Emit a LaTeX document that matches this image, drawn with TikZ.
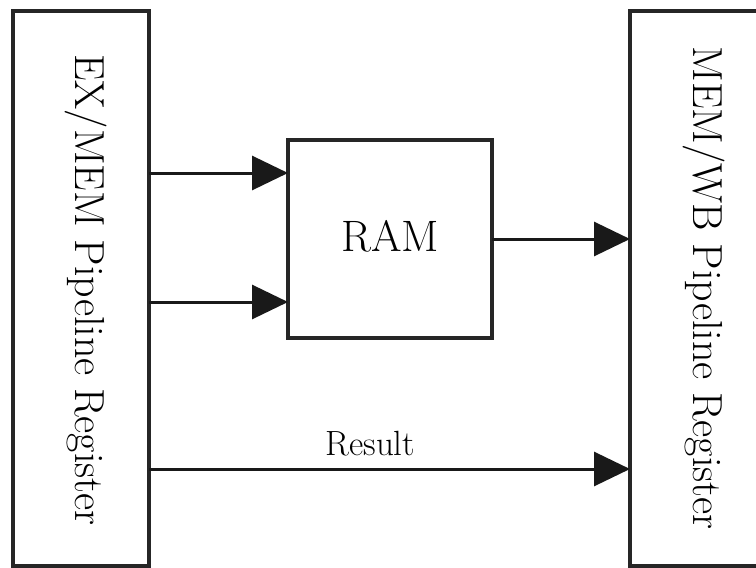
\documentclass[tikz,border=0pt]{standalone}
\usetikzlibrary{arrows.meta}
\begin{document}
\begin{tikzpicture}[x=1pt,y=-1pt,
  reg/.style={draw=black!85, line width=4pt, minimum width=136pt, minimum height=555pt, outer sep=0pt, inner sep=0pt},
  ramstyle/.style={draw=black!85, line width=3.5pt, minimum width=204pt, minimum height=198pt, outer sep=0pt, inner sep=0pt, font=\fontsize{44}{50}\selectfont},
  vlabel/.style={rotate=-90, anchor=base, inner sep=0pt, font=\fontsize{42}{50}\selectfont},
  arr/.style={draw=black!90, line width=3pt, -{Triangle[length=36pt,width=34pt]}}]
\useasboundingbox (0,0) rectangle (756,568);
\fill[white] (0,0) rectangle (756,568);
\clip (0,0) rectangle (756,568);
\node[reg] (exmem) at (81,288.5) {};
\node[reg, minimum width=160pt] (memwb) at (710,288.5) {};
\node[vlabel] (exlab) at (75,290) {EX/MEM Pipeline Register};
\node[vlabel] (wblab) at (693,288) {MEM/WB Pipeline Register};
\node[ramstyle] (ram) at (390,239) {};
\node[font=\fontsize{44}{50}\selectfont, inner sep=0pt] (ramlab) at (390,236) {RAM};
\coordinate (in1) at ([yshift=66pt]ram.west);
\coordinate (in2) at ([yshift=-63pt]ram.west);
\coordinate (res) at ([yshift=-180.5pt]exmem.east);
\draw[arr] (exmem.east |- in1) -- (in1);
\draw[arr] (exmem.east |- in2) -- (in2);
\draw[arr] (ram.east) -- (memwb.west |- ram.east);
\draw[arr] (res) -- (memwb.west |- res) node[pos=0.46, anchor=base, yshift=14pt, inner sep=0pt, font=\fontsize{35}{40}\selectfont] (reslab) {Result};
\end{tikzpicture}
\end{document}
